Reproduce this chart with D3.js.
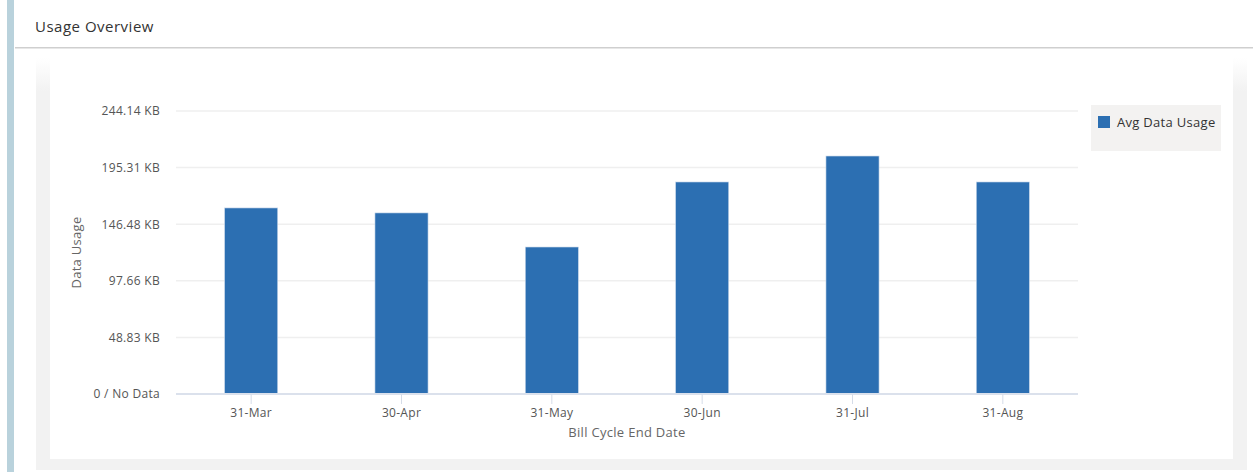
<!DOCTYPE html>
<html><head><meta charset="utf-8">
<script src="https://cdn.jsdelivr.net/npm/d3@7"></script>
<style>
html,body{margin:0;padding:0;background:#fff;overflow:hidden;}
svg{display:block;font-family:"Open Sans","DejaVu Sans",sans-serif;}
</style></head>
<body>
<svg id="c" width="1253" height="472"></svg>
<script>
const categories = ["31-Mar","30-Apr","31-May","30-Jun","31-Jul","31-Aug"];
const usageKB = [160.5, 156.2, 126.8, 182.9, 205.3, 182.9];
const tickValuesKB = [0, 48.83, 97.66, 146.48, 195.31, 244.14];
const tickLabels = ["0 / No Data","48.83 KB","97.66 KB","146.48 KB","195.31 KB","244.14 KB"];
const seriesName = "Avg Data Usage";

(function(){
const svg = d3.select("#c");
const FF = "'Open Sans','DejaVu Sans',sans-serif";
// page chrome
svg.append("rect").attr("x",7).attr("y",0).attr("width",7).attr("height",472).attr("fill","#b9d2dc");
svg.append("text").attr("x",35).attr("y",32).attr("font-size",15).attr("letter-spacing",0.5).attr("fill","#333").text("Usage Overview");
svg.append("rect").attr("x",15).attr("y",47).attr("width",1238).attr("height",1.5).attr("fill","#cfcfcf");
const defs = svg.append("defs");
const g1 = defs.append("linearGradient").attr("id","fade").attr("x1",0).attr("y1",0).attr("x2",0).attr("y2",1);
g1.append("stop").attr("offset","0").attr("stop-color","#f2f2f2").attr("stop-opacity",0);
g1.append("stop").attr("offset","0.08").attr("stop-color","#f2f2f2").attr("stop-opacity",1);
g1.append("stop").attr("offset","1").attr("stop-color","#f2f2f2").attr("stop-opacity",1);
svg.append("rect").attr("x",36).attr("y",58).attr("width",1211).attr("height",412).attr("fill","url(#fade)");
svg.append("rect").attr("x",50).attr("y",58).attr("width",1183).attr("height",401).attr("fill","#fff");

const pL = 176, pR = 1078, pT = 111, pB = 394;
const x = d3.scaleBand().domain(categories).range([pL,pR]).paddingInner(0.647).paddingOuter(0.3235);
const y = d3.scaleLinear().domain([0,244.14]).range([pB,pT]);

// gridlines
svg.append("g").selectAll("line").data(tickValuesKB.slice(1)).join("line")
  .attr("x1",pL).attr("x2",pR).attr("y1",d=>y(d)).attr("y2",d=>y(d))
  .attr("stroke","#efefef").attr("stroke-width",1.5);

// bars
svg.append("g").selectAll("rect").data(usageKB).join("rect")
  .attr("x",(d,i)=>x(categories[i])).attr("width",x.bandwidth())
  .attr("y",d=>y(d)).attr("height",d=>pB-y(d))
  .attr("fill","#2c6fb2").attr("stroke","#c9d8ea").attr("stroke-width",0.6);

// y axis
const yAxis = d3.axisLeft(y).tickValues(tickValuesKB).tickSize(0).tickPadding(16)
  .tickFormat((d,i)=>tickLabels[i]);
const ya = svg.append("g").attr("transform",`translate(${pL},0)`).call(yAxis);
ya.select(".domain").remove();
ya.selectAll("text").attr("font-size",12).attr("letter-spacing",0.3).attr("fill","#555").attr("font-family",FF);

// x axis
const xAxis = d3.axisBottom(x).tickSize(10).tickPadding(4);
const xa = svg.append("g").attr("transform",`translate(0,${pB})`).call(xAxis);
xa.select(".domain").attr("d",`M${pL},0H${pR}`).attr("stroke","#dbe1ec").attr("stroke-width",2);
xa.selectAll(".tick line").attr("stroke","#d5dce8").attr("stroke-width",1);
xa.selectAll("text").attr("font-size",12).attr("letter-spacing",0.3).attr("fill","#555").attr("font-family",FF);

// axis titles
svg.append("text").attr("transform",`translate(81,${(pT+pB)/2}) rotate(-90)`)
  .attr("text-anchor","middle").attr("font-size",13).attr("letter-spacing",0.3).attr("fill","#666").text("Data Usage");
svg.append("text").attr("x",(pL+pR)/2).attr("y",437).attr("text-anchor","middle")
  .attr("font-size",13).attr("letter-spacing",0.3).attr("fill","#666").text("Bill Cycle End Date");

// legend
const lg = svg.append("g");
lg.append("rect").attr("x",1091).attr("y",105).attr("width",130).attr("height",46).attr("fill","#f3f2f1");
lg.append("rect").attr("x",1098).attr("y",116).attr("width",12).attr("height",12).attr("fill","#2c6fb2");
lg.append("text").attr("x",1117).attr("y",127).attr("font-size",13).attr("letter-spacing",0.3).attr("fill","#333").text(seriesName);
})();
</script>
</body></html>
